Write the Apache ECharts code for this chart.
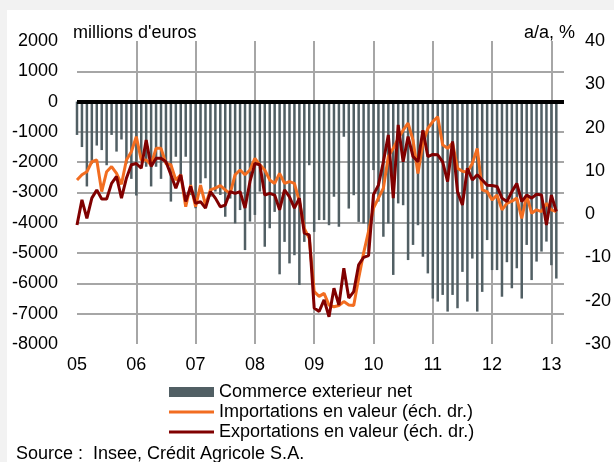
<!DOCTYPE html>
<html>
<head>
<meta charset="utf-8">
<script src="https://cdn.jsdelivr.net/npm/echarts@6/dist/echarts.min.js"></script>
<style>
html, body { margin:0; padding:0; background:#f2f2f2; }
#fond { position:absolute; left:7px; top:10px; width:607px; height:452px; background:#fff; }
#main { position:absolute; left:0; top:0; width:614px; height:462px; }
</style>
</head>
<body>
<div id="fond"></div>
<div id="main"></div>
<script>
// libellés des années (un tous les 12 mois, à partir de janvier 2005)
var annees = ['05','06','07','08','09','10','11','12','13'];

// solde commercial mensuel, millions d'euros (jan 2005 -> fév 2013)
var commerceNet = [
  -1100, -1500, -2800, -2050, -1450, -1600, -2100, -1100, -1650, -1250, -2050, -2550,
  -3100, -1900, -2150, -2800, -2150, -2550, -2000, -3300, -1820, -2420, -1820, -3080,
  -3520, -2700, -2530, -3140, -2970, -3080, -3800, -3200, -4020, -3580, -4900, -3960,
  -3740, -2970, -4790, -4180, -3640, -5700, -4630, -5340, -5070, -6050, -4630, -2100,
  -4300, -3910, -3910, -4080, -3140, -4130, -1160, -3530, -3090, -3970, -4020, -4950,
  -2260, -3300, -4460, -4020, -5720, -3360, -3420, -5230, -4730, -4080, -5120, -5670,
  -6500, -6600, -6380, -6930, -6380, -6820, -5620, -6600, -5180, -6930, -6280, -4570,
  -5560, -5560, -6440, -5300, -6160, -5500, -6500, -4730, -5890, -5280, -4950, -4620,
  -5400, -5840
];

// glissement annuel, % (échelle de droite)
var importations = [
  7.9, 9.1, 9.8, 12.1, 12.5, 5.2, 9.8, 11.0, 9.4, 6.9, 12.5, 14.4,
  17.9, 12.5, 12.5, 11.4, 15.2, 15.2, 11.7, 11.4, 7.9, 9.1, 1.7, 6.7,
  1.7, 6.7, 2.1, 5.6, 6.0, 6.6, 5.6, 4.8, 9.1, 10.2, 9.1, 10.2,
  12.9, 11.4, 10.2, 7.9, 7.1, 9.4, 7.1, 7.5, 7.1, 2.9, -3.3, -5.6,
  -17.9, -19.0, -18.3, -21.0, -21.4, -21.1, -20.2, -21.0, -21.1, -14.8, -9.0, -4.0,
  1.4, 3.7, 6.0, 13.3, 15.2, 17.5, 19.4, 21.0, 17.1, 9.4, 16.4, 19.8,
  21.4, 22.5, 16.0, 15.2, 16.4, 10.6, 9.9, 9.7, 11.7, 15.2, 5.6, 5.2,
  3.3, 4.4, 1.0, 2.5, 3.0, 3.7, -1.0, 4.4, 0.2, 1.0, 0.6, 2.5,
  1.0, 0.6
];

var exportations = [
  -2.5, 3.3, -1.0, 3.7, 5.6, 3.5, 3.5, 7.1, 8.7, 3.7, 8.3, 11.4,
  11.7, 10.6, 17.1, 11.0, 12.9, 12.9, 12.1, 9.1, 6.0, 9.1, 2.9, 6.4,
  2.5, 2.9, 1.4, 5.2, 3.7, 1.7, 2.1, 5.2, 4.8, 5.2, 1.4, 7.5,
  11.7, 11.4, 4.4, 4.8, 4.4, 1.0, 5.6, 4.0, 1.4, 3.7, -4.4, -4.8,
  -21.7, -22.5, -19.8, -23.7, -17.1, -21.0, -12.5, -19.4, -17.9, -11.7, -10.0, -9.6,
  4.5, 6.7, 12.1, 18.3, 3.7, 20.6, 12.1, 17.9, 13.3, 12.1, 19.4, 13.3,
  13.8, 13.7, 12.1, 7.5, 16.8, 5.2, 2.1, 10.6, 7.9, 9.1, 7.9, 6.7,
  6.6, 6.4, 3.7, 2.9, 5.2, 7.1, 2.9, 4.4, 3.7, 4.6, 4.4, -2.5,
  4.4, 0.6
];

function enPoints(arr) {
  return arr.map(function (v, i) { return [i, v]; });
}

var police = '"Liberation Sans", Arial, sans-serif';
var taille = 18;
var iconeLigne = 'path://M0,0L45,0L45,3L0,3Z';
var myChart = echarts.init(document.getElementById('main'));

var option = {
  animation: false,
  textStyle: { fontFamily: police },
  grid: { left: 77, right: 40, top: 41, bottom: 118 },
  xAxis: {
    type: 'value',
    min: 0,
    max: 98.55,
    interval: 12,
    axisLine: { show: false },
    axisTick: { show: false },
    axisLabel: {
      margin: 12,
      fontSize: taille,
      color: '#000',
      formatter: function (v) {
        return v % 12 === 0 ? annees[v / 12] : '';
      }
    },
    splitLine: {
      show: true,
      showMinLine: false,
      showMaxLine: false,
      lineStyle: { color: '#a6a6a6', width: 2 }
    }
  },
  yAxis: [
    {
      type: 'value',
      min: -8000,
      max: 2000,
      interval: 1000,
      axisLine: { show: false },
      axisTick: { show: false },
      axisLabel: {
        margin: 19, fontSize: taille, color: '#000',
        formatter: function (v) { return String(v); }
      },
      splitLine: {
        show: true,
        showMinLine: false,
        showMaxLine: false,
        lineStyle: { color: '#a6a6a6', width: 2 }
      }
    },
    {
      type: 'value',
      position: 'right',
      min: -30,
      max: 40,
      interval: 10,
      axisLine: { show: false },
      axisTick: { show: false },
      axisLabel: {
        margin: 21, fontSize: taille, color: '#000',
        formatter: function (v) { return String(v); }
      },
      splitLine: { show: false }
    }
  ],
  legend: {
    orient: 'vertical',
    left: 164,
    top: 378,
    itemWidth: 45,
    itemHeight: 10,
    itemGap: 2,
    textStyle: { fontSize: taille, color: '#000', fontFamily: police },
    data: [
      { name: 'Commerce exterieur net', icon: 'rect' },
      { name: 'Importations en valeur (éch. dr.)', icon: iconeLigne },
      { name: 'Exportations en valeur (éch. dr.)', icon: iconeLigne }
    ]
  },
  graphic: [
    { type: 'text', x: 73, y: 33,
      style: { text: "millions d'euros", fill: '#000', font: taille + 'px ' + police, verticalAlign: 'middle' } },
    { type: 'text', x: 575, y: 33,
      style: { text: 'a/a, %', fill: '#000', font: taille + 'px ' + police, align: 'right', verticalAlign: 'middle' } },
    { type: 'text', x: 16, y: 454,
      style: { text: 'Source :  Insee, Crédit Agricole S.A.', fill: '#000', font: taille + 'px ' + police, verticalAlign: 'middle' } }
  ],
  series: [
    {
      name: 'Commerce exterieur net',
      type: 'bar',
      barWidth: 2.5,
      itemStyle: { color: '#515f64' },
      data: enPoints(commerceNet),
      markLine: {
        silent: true,
        symbol: ['none', 'none'],
        label: { show: false },
        lineStyle: { color: '#000', width: 4, type: 'solid' },
        data: [{ yAxis: 0 }]
      }
    },
    {
      name: 'Importations en valeur (éch. dr.)',
      type: 'line',
      yAxisIndex: 1,
      symbol: 'none',
      lineStyle: { color: '#f26d21', width: 3 },
      itemStyle: { color: '#f26d21' },
      data: enPoints(importations)
    },
    {
      name: 'Exportations en valeur (éch. dr.)',
      type: 'line',
      yAxisIndex: 1,
      symbol: 'none',
      lineStyle: { color: '#800000', width: 3 },
      itemStyle: { color: '#800000' },
      data: enPoints(exportations)
    }
  ]
};

myChart.setOption(option);
</script>
</body>
</html>
